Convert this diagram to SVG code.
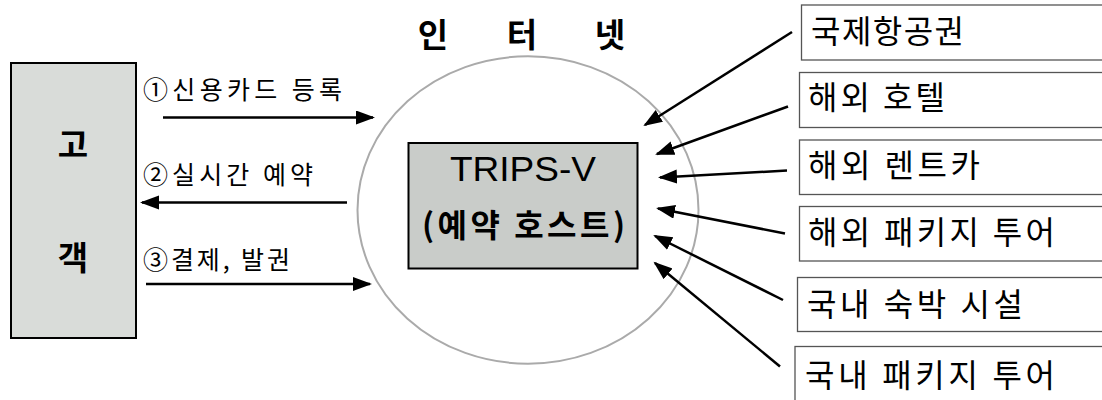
<svg xmlns="http://www.w3.org/2000/svg" width="1102" height="400" viewBox="0 0 1102 400">
<style>
.kr{font-family:"Noto Sans CJK KR","Noto Sans",sans-serif;fill:#000}
.b{font-weight:bold}
.lbl{font-size:25px}
.svc{font-size:32px}
.conn{stroke:#000;stroke-width:2.5;fill:none;marker-end:url(#ah)}
.svcbox{fill:#fff;stroke:#555;stroke-width:1.3}
</style>
<defs>
<marker id="ah" markerUnits="userSpaceOnUse" markerWidth="20" markerHeight="16" refX="17" refY="7" orient="auto">
<path d="M0,0 L19,7 L0,14 z" fill="#000"/>
</marker>
</defs>
<rect width="1102" height="400" fill="#fff"/>

<g id="internet">
<ellipse cx="528" cy="210" rx="170.5" ry="153.7" fill="none" stroke="#aaa" stroke-width="2"/>
<text class="kr b" x="433" y="47" font-size="33" text-anchor="middle">인</text>
<text class="kr b" x="522" y="47" font-size="33" text-anchor="middle">터</text>
<text class="kr b" x="610" y="47" font-size="33" text-anchor="middle">넷</text>
</g>

<g id="customer">
<rect x="11" y="63" width="125" height="275" fill="#d9dcd9" stroke="#000" stroke-width="2"/>
<text class="kr b" x="73" y="157" font-size="33" text-anchor="middle">고</text>
<text class="kr b" x="73" y="270" font-size="33" text-anchor="middle">객</text>
</g>

<g id="host">
<rect x="408.5" y="143" width="229" height="125.5" fill="#c9ccc9" stroke="#000" stroke-width="2"/>
<text x="523" y="181" font-family="Liberation Sans, Arial, sans-serif" font-size="35" text-anchor="middle" textLength="146" lengthAdjust="spacingAndGlyphs">TRIPS-V</text>
<text class="kr b" x="422" y="237" font-size="32" textLength="203" lengthAdjust="spacing">(예약 호스트)</text>
</g>

<g id="svc1"><rect class="svcbox" x="801.5" y="5" width="310" height="55"/><text class="kr svc" x="811" y="43" textLength="153" lengthAdjust="spacing">국제항공권</text></g>
<g id="svc2"><rect class="svcbox" x="799.5" y="72.5" width="310" height="55"/><text class="kr svc" x="808" y="109" textLength="137" lengthAdjust="spacing">해외 호텔</text></g>
<g id="svc3"><rect class="svcbox" x="799.5" y="140" width="310" height="54.5"/><text class="kr svc" x="808" y="177" textLength="172" lengthAdjust="spacing">해외 렌트카</text></g>
<g id="svc4"><rect class="svcbox" x="799.5" y="206.5" width="310" height="54.5"/><text class="kr svc" x="808" y="244" textLength="247" lengthAdjust="spacing">해외 패키지 투어</text></g>
<g id="svc5"><rect class="svcbox" x="797.5" y="277.5" width="310" height="54"/><text class="kr svc" x="807" y="316" textLength="216" lengthAdjust="spacing">국내 숙박 시설</text></g>
<g id="svc6"><rect class="svcbox" x="795" y="346.5" width="310" height="60"/><text class="kr svc" x="805" y="387" textLength="250" lengthAdjust="spacing">국내 패키지 투어</text></g>

<g id="connectors">
<line class="conn" x1="163" y1="117.5" x2="373" y2="117.5"/>
<line class="conn" x1="347" y1="202.5" x2="142" y2="202.5"/>
<line class="conn" x1="146" y1="284" x2="370" y2="284"/>
<text class="kr lbl" x="143" y="99" textLength="199" lengthAdjust="spacing">①신용카드 등록</text>
<text class="kr lbl" x="143" y="184" textLength="170" lengthAdjust="spacing">②실시간 예약</text>
<text class="kr lbl" x="143" y="269" textLength="147" lengthAdjust="spacing">③결제, 발권</text>
<line class="conn" x1="792" y1="32" x2="645" y2="125"/>
<line class="conn" x1="788" y1="106.5" x2="657" y2="154"/>
<line class="conn" x1="787" y1="170.5" x2="660" y2="177.5"/>
<line class="conn" x1="785" y1="233.5" x2="658" y2="208.5"/>
<line class="conn" x1="783" y1="300" x2="655" y2="236"/>
<line class="conn" x1="780" y1="366.5" x2="655" y2="263"/>
</g>
</svg>
